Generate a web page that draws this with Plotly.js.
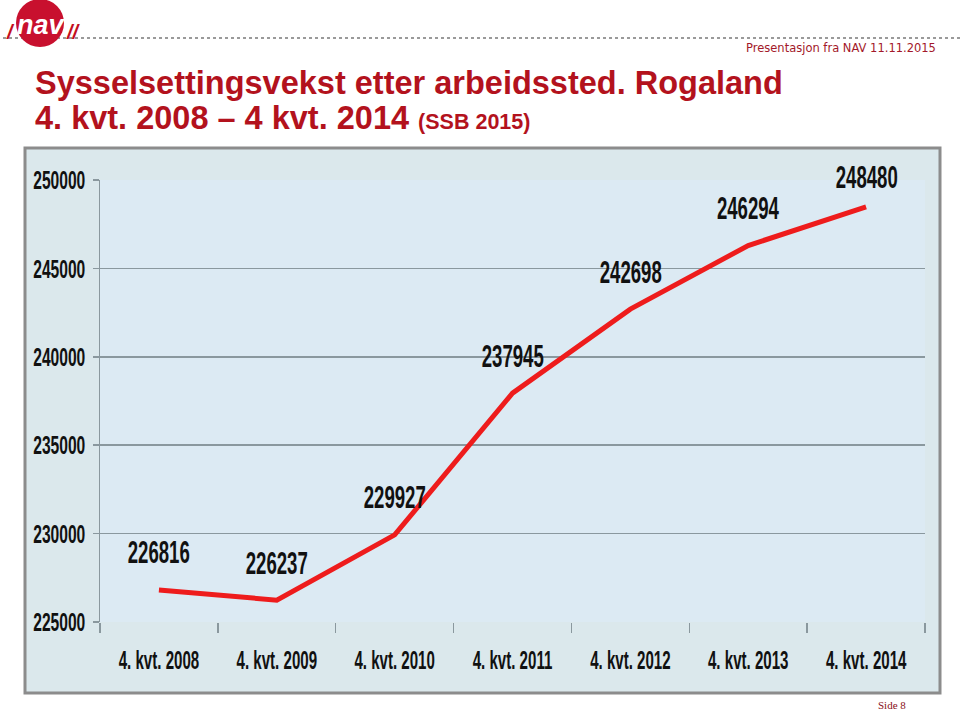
<!DOCTYPE html>
<html>
<head>
<meta charset="utf-8">
<script src="https://cdn.plot.ly/plotly-3.0.1.min.js"></script>
<style>
html,body{margin:0;padding:0;background:#fff;}
#chart{width:960px;height:711px;}
.narrow-label{transform-box:fill-box;transform-origin:50% 50%;transform:scaleX(0.6);}
</style>
</head>
<body>
<div id="chart"></div>
<script>
const categories = ["4. kvt. 2008","4. kvt. 2009","4. kvt. 2010","4. kvt. 2011","4. kvt. 2012","4. kvt. 2013","4. kvt. 2014"];
const employed = [226816, 226237, 229927, 237945, 242698, 246294, 248480];
const yTicks = [225000, 230000, 235000, 240000, 245000, 250000];

// plot area in pixels
const PL = 100, PR = 925, PT = 180, PB = 622;
const X = px => (px - PL) / (PR - PL);
const Y = py => (PB - py) / (PB - PT);

const bold = "Liberation Sans, Arial, sans-serif";
const titleRed = "#b3121d";

const trace = {
  type: "scatter",
  mode: "lines",
  x: categories,
  y: employed,
  line: {color: "#ee1c1c", width: 5},
  hoverinfo: "skip",
  showlegend: false
};

const annotations = employed.map((v, i) => ({
  x: categories[i], y: v, xref: "x", yref: "y",
  text: String(v), showarrow: false,
  yshift: i === employed.length - 1 ? 29 : 37,
  font: {family: bold, size: 31, color: "#111", weight: "bold"}
}));
const nLabels = annotations.length;

annotations.push(
  {xref: "paper", yref: "paper", x: X(33), y: Y(118), xanchor: "left", yanchor: "middle", showarrow: false,
   text: "4. kvt. 2008 – 4 kvt. 2014 <span style='font-size:21.5px'>(SSB 2015)</span>",
   font: {family: bold, size: 32.5, color: titleRed, weight: "bold"}},
  {xref: "paper", yref: "paper", x: X(938), y: Y(48), xanchor: "right", yanchor: "middle", showarrow: false,
   text: "Presentasjon fra NAV 11.11.2015",
   font: {family: "DejaVu Sans, Verdana, sans-serif", size: 11.5, color: "#a3182a"}},
  {xref: "paper", yref: "paper", x: X(908), y: Y(705), xanchor: "right", yanchor: "middle", showarrow: false,
   text: "Side 8",
   font: {family: "Liberation Serif, Times New Roman, serif", size: 11, color: "#8a1020"}},
  {xref: "paper", yref: "paper", x: X(41), y: Y(25), xanchor: "center", yanchor: "middle", showarrow: false,
   text: "nav",
   font: {family: bold, size: 27, color: "#ffffff", weight: "bold", style: "italic"}},
  {xref: "paper", yref: "paper", x: X(10), y: Y(32), xanchor: "center", yanchor: "middle", showarrow: false,
   text: "/",
   font: {family: bold, size: 20, color: "#c30f20", weight: "bold", style: "italic"}},
  {xref: "paper", yref: "paper", x: X(73), y: Y(32), xanchor: "center", yanchor: "middle", showarrow: false,
   text: "//",
   font: {family: bold, size: 20, color: "#c30f20", weight: "bold", style: "italic"}}
);

const shapes = [
  {type: "line", xref: "paper", yref: "paper", x0: X(3), x1: X(960), y0: Y(38), y1: Y(38),
   line: {color: "#9a9a9a", width: 2, dash: "dot"}, layer: "below"},
  {type: "circle", xref: "paper", yref: "paper", x0: X(16), x1: X(64), y0: Y(47), y1: Y(-1),
   fillcolor: "#c8102e", line: {width: 0}, layer: "below"},
  {type: "rect", xref: "paper", yref: "paper", x0: X(25), x1: X(940), y0: Y(693), y1: Y(148),
   fillcolor: "#dbe8ec", line: {color: "#8c8c8c", width: 3}, layer: "below"},
  {type: "rect", xref: "paper", yref: "paper", x0: 0, x1: 1, y0: 0, y1: 1,
   fillcolor: "#dceaf3", line: {width: 0}, layer: "below"}
];

const layout = {
  width: 960, height: 711,
  margin: {l: PL, r: 960 - PR, t: PT, b: 711 - PB},
  paper_bgcolor: "#ffffff",
  plot_bgcolor: "rgba(0,0,0,0)",
  title: {
    text: "Sysselsettingsvekst etter arbeidssted. Rogaland",
    x: 35 / 960, xanchor: "left", xref: "container",
    y: 1 - 83 / 711, yanchor: "middle", yref: "container",
    font: {family: bold, size: 32.5, color: titleRed, weight: "bold"}
  },
  xaxis: {
    type: "category",
    range: [-0.5, categories.length - 0.5],
    showgrid: false, zeroline: false, showline: false,
    ticks: "outside", tickson: "boundaries", ticklen: 10, tickwidth: 1.5, tickcolor: "#8a989e",
    tickangle: 0,
    ticklabelstandoff: 20,
    tickfont: {family: bold, size: 26, color: "#111", weight: "bold"},
    fixedrange: true
  },
  yaxis: {
    range: [225000, 250000],
    tickvals: yTicks,
    ticktext: yTicks.map(String),
    showgrid: true, gridcolor: "#8a989e", gridwidth: 1.5,
    zeroline: false,
    showline: true, linecolor: "#8a989e", linewidth: 1.5,
    ticks: "outside", ticklen: 6, tickwidth: 1.5, tickcolor: "#8a989e",
    ticklabelstandoff: 2,
    tickfont: {family: bold, size: 26, color: "#111", weight: "bold"},
    fixedrange: true
  },
  shapes: shapes,
  annotations: annotations
};

function narrowTicks(selector, sx, anchorRight) {
  document.querySelectorAll(selector).forEach(t => {
    const b = t.getBBox();
    const ax = anchorRight ? b.x + b.width : b.x + b.width / 2;
    const prev = t.getAttribute("transform") || "";
    t.setAttribute("transform", prev + " translate(" + ax + ",0) scale(" + sx + ",1) translate(" + (-ax) + ",0)");
  });
}

Plotly.newPlot("chart", [trace], layout, {staticPlot: true, displayModeBar: false}).then(() => {
  for (let i = 0; i < nLabels; i++) {
    const t = document.querySelector('g.annotation[data-index="' + i + '"] text.annotation-text');
    if (t) t.classList.add("narrow-label");
  }
  narrowTicks(".xtick text", 0.58, false);
  narrowTicks(".ytick text", 0.6, true);
});
</script>
</body>
</html>
